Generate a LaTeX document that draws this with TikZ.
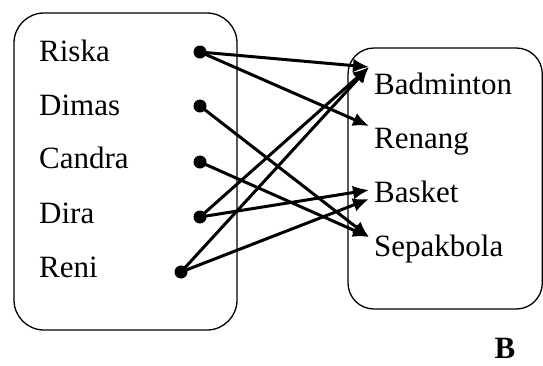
\documentclass[tikz,border=0pt]{standalone}
\usepackage{fontspec}
\setmainfont{Liberation Serif}
\usetikzlibrary{arrows.meta}
\begin{document}
\begin{tikzpicture}[x=1pt,y=-1pt,
  lbl/.style={anchor=base west,inner sep=0pt,font=\fontsize{31}{36}\selectfont},
  setbox/.style={draw,line width=1.3pt,rounded corners=30pt},
  dot/.style={circle,fill,inner sep=0pt,minimum size=13pt},
  link/.style={line width=3pt,-{Latex[length=16pt,width=14pt]},shorten <=-1pt}]
\useasboundingbox (0,0) rectangle (543,365);
% the two sets
\draw[setbox] (14,13) rectangle (237,330);
\draw[setbox,rounded corners=26pt] (348,48) rectangle (542.3,309);
% members of A
\node[lbl] (riska)  at (39,61)  {Riska};
\node[lbl] (dimas)  at (39,115) {Dimas};
\node[lbl] (candra) at (39,168) {Candra};
\node[lbl] (dira)   at (39,223) {Dira};
\node[lbl] (reni)   at (39,277) {Reni};
% members of B
\node[lbl] (badminton) at (374,94)  {Badminton};
\node[lbl] (renang)    at (374,148) {Renang};
\node[lbl] (basket)    at (374,202) {Basket};
\node[lbl] (sepakbola) at (374,256) {Sepakbola};
\node[anchor=base,inner sep=0pt,font=\fontsize{31}{36}\selectfont\bfseries] (setB) at (505,358) {B};
% points
\node[dot] (pRiska)  at (200,52)  {};
\node[dot] (pDimas)  at (200,106) {};
\node[dot] (pCandra) at (200,162) {};
\node[dot] (pDira)   at (200,217) {};
\node[dot] (pReni)   at (181,272) {};
% arrow targets
\coordinate (tBad)  at (369,67);
\coordinate (tRen)  at (369,126);
\coordinate (tBas1) at (369,190);
\coordinate (tBas2) at (369,199);
\coordinate (tSep)  at (369,237);
% relation
\draw[link] (pRiska.center)  -- (tBad);
\draw[link] (pRiska.center)  -- (tRen);
\draw[link] (pDimas.center)  -- (tSep);
\draw[link] (pCandra.center) -- (tSep);
\draw[link] (pDira.center)   -- (tBad);
\draw[link] (pDira.center)   -- (tBas1);
\draw[link] (pReni.center)   -- (tBad);
\draw[link] (pReni.center)   -- (tBas2);
\end{tikzpicture}
\end{document}
